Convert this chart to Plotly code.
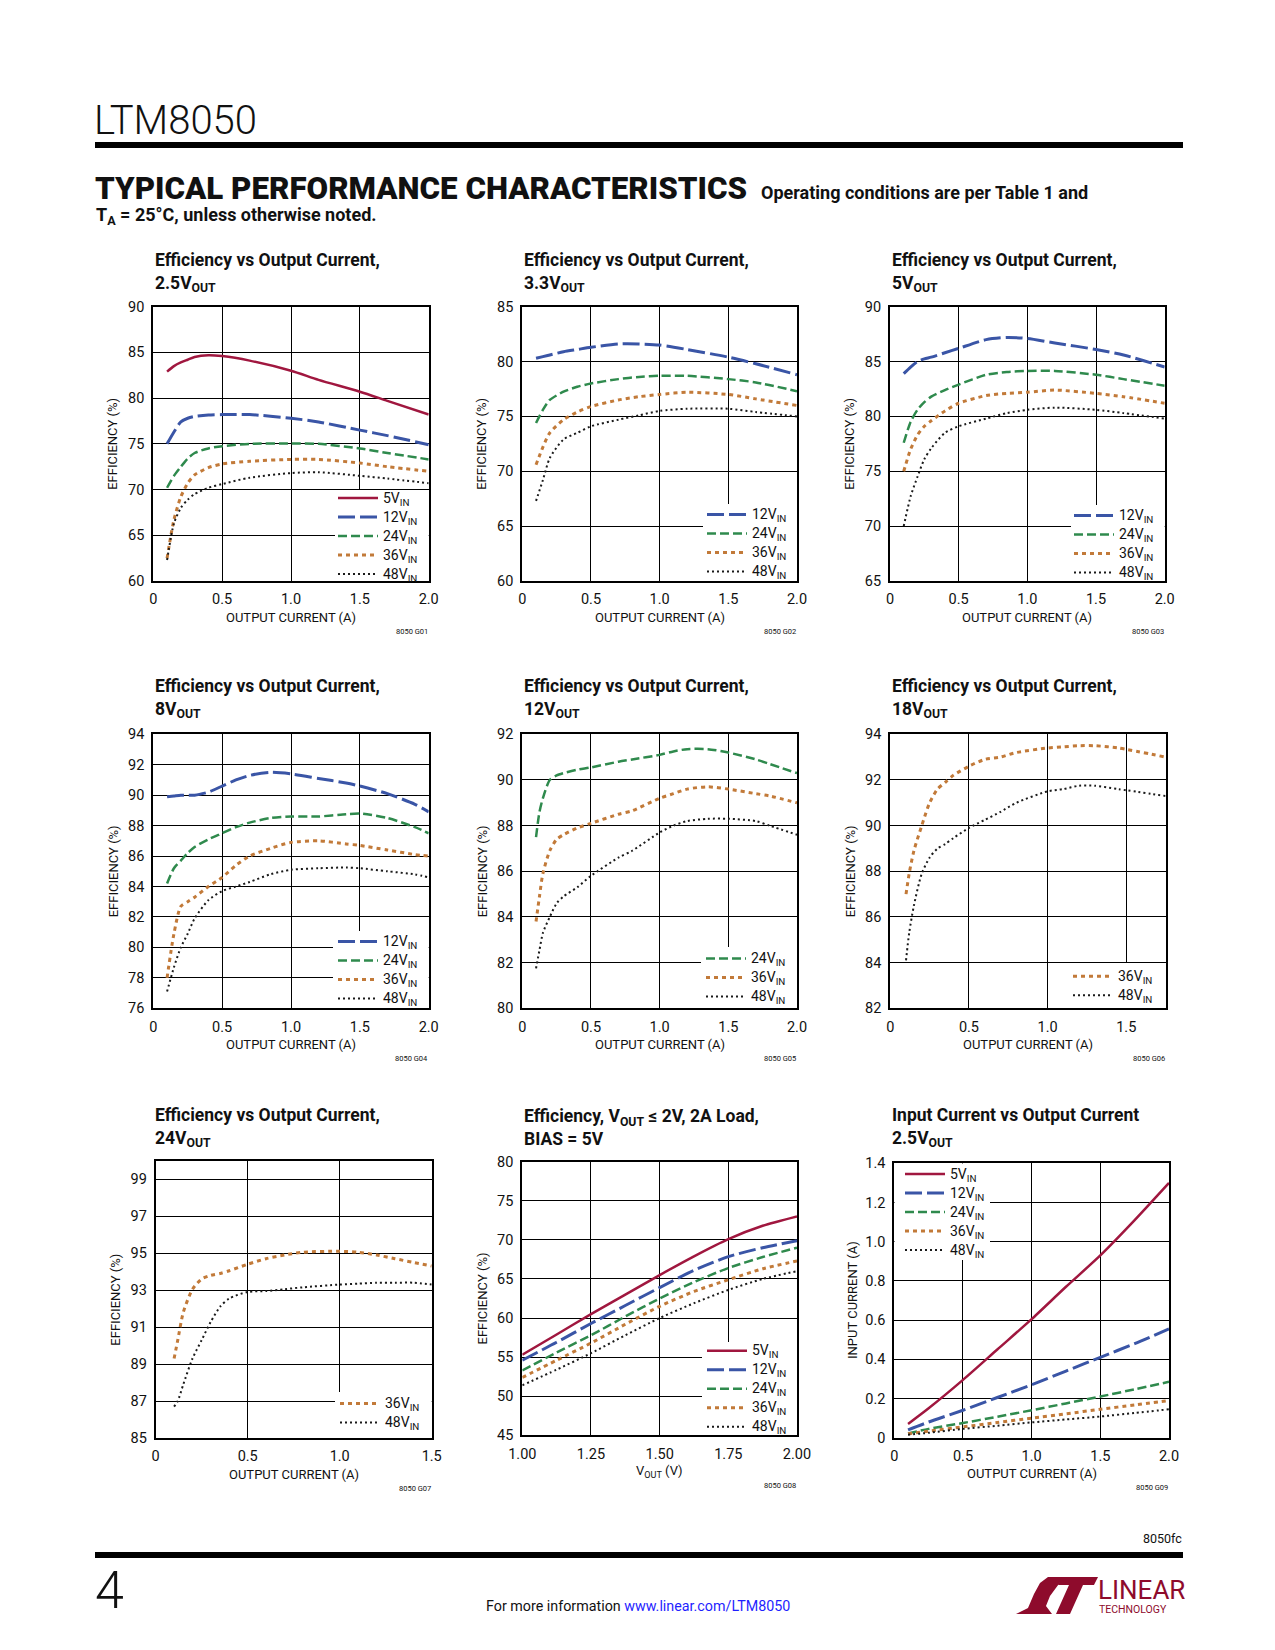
import plotly.graph_objects as go

# Page is 1275x1650; the browser body has an 8px margin, so the figure is sized to fit
# inside it exactly and all positions below are page pixels.
PAGE_W, PAGE_H = 1275, 1650
OX, OY = 8, 8
W, H = PAGE_W - 2 * OX, PAGE_H - 2 * OY
FONT = "Roboto, Liberation Sans, DejaVu Sans Condensed, sans-serif"

# ---------------- data ----------------
# Panel 1: Efficiency vs Output Current, 2.5VOUT
p1_x = [0.1, 0.15, 0.2, 0.25, 0.3, 0.4, 0.5, 0.7, 1.0, 1.2, 1.5, 1.7, 2.0]
p1_5v = [82.9, 83.5, 83.9, 84.2, 84.5, 84.7, 84.6, 84.1, 83.0, 82.0, 80.7, 79.7, 78.2]
p1_12v = [75.0, 76.3, 77.4, 77.8, 78.0, 78.15, 78.2, 78.2, 77.8, 77.4, 76.5, 75.9, 74.9]
p1_24v = [70.2, 71.5, 72.5, 73.4, 74.0, 74.5, 74.75, 75.0, 75.05, 75.0, 74.5, 74.0, 73.3]
p1_36v = [62.5, 66.7, 69.2, 70.7, 71.6, 72.4, 72.8, 73.1, 73.3, 73.3, 72.9, 72.5, 72.0]
p1_48v = [62.3, 66.3, 68.0, 68.9, 69.5, 70.2, 70.6, 71.3, 71.8, 71.9, 71.5, 71.2, 70.7]

# Panel 2: 3.3VOUT
p2_x = [0.1, 0.15, 0.2, 0.3, 0.4, 0.5, 0.7, 0.85, 1.0, 1.2, 1.5, 1.7, 2.0]
p2_12v = [80.3, 80.45, 80.6, 80.9, 81.1, 81.3, 81.6, 81.6, 81.5, 81.1, 80.4, 79.8, 78.8]
p2_24v = [74.4, 75.6, 76.5, 77.25, 77.7, 78.0, 78.4, 78.6, 78.7, 78.7, 78.4, 78.1, 77.3]
p2_36v = [70.6, 72.2, 73.5, 74.7, 75.4, 75.9, 76.5, 76.8, 77.0, 77.2, 77.0, 76.6, 76.0]
p2_48v = [67.3, 69.2, 71.2, 72.9, 73.5, 74.1, 74.7, 75.1, 75.5, 75.7, 75.7, 75.4, 75.0]

# Panel 3: 5VOUT
p3_x = [0.1, 0.15, 0.2, 0.25, 0.3, 0.4, 0.5, 0.7, 0.85, 1.0, 1.2, 1.5, 1.7, 2.0]
p3_12v = [83.9, 84.5, 85.0, 85.25, 85.4, 85.8, 86.2, 87.0, 87.2, 87.1, 86.7, 86.1, 85.6, 84.5]
p3_24v = [77.6, 79.5, 80.6, 81.3, 81.8, 82.4, 82.9, 83.8, 84.05, 84.15, 84.15, 83.8, 83.4, 82.8]
p3_36v = [75.0, 77.0, 78.3, 79.1, 79.6, 80.5, 81.2, 81.9, 82.1, 82.2, 82.4, 82.1, 81.8, 81.2]
p3_48v = [70.0, 72.7, 74.5, 76.1, 77.1, 78.5, 79.1, 79.8, 80.3, 80.6, 80.8, 80.6, 80.3, 79.8]

# Panel 4: 8VOUT
p4_x = [0.1, 0.15, 0.2, 0.25, 0.3, 0.4, 0.5, 0.6, 0.7, 0.85, 1.0, 1.2, 1.4, 1.5, 1.7, 1.9, 2.0]
p4_12v = [89.9, 89.95, 90.0, 90.0, 90.0, 90.2, 90.6, 91.0, 91.3, 91.5, 91.4, 91.1, 90.8, 90.6, 90.1, 89.4, 88.9]
p4_24v = [84.2, 85.2, 85.7, 86.2, 86.6, 87.1, 87.5, 87.9, 88.2, 88.5, 88.6, 88.6, 88.75, 88.8, 88.5, 87.9, 87.5]
p4_36v = [78.0, 80.9, 82.7, 83.0, 83.3, 84.0, 84.6, 85.4, 86.0, 86.5, 86.9, 87.0, 86.8, 86.7, 86.4, 86.1, 86.0]
p4_48v = [77.1, 78.7, 80.0, 80.9, 81.9, 83.1, 83.7, 84.0, 84.3, 84.8, 85.1, 85.2, 85.25, 85.2, 85.0, 84.8, 84.6]

# Panel 5: 12VOUT
p5_x = [0.1, 0.125, 0.15, 0.2, 0.25, 0.3, 0.4, 0.5, 0.7, 0.8, 1.0, 1.1, 1.2, 1.35, 1.5, 1.7, 1.8, 2.0]
p5_24v = [87.5, 88.6, 89.2, 90.0, 90.2, 90.3, 90.45, 90.55, 90.8, 90.9, 91.1, 91.25, 91.35, 91.35, 91.2, 90.9, 90.7, 90.3]
p5_36v = [83.8, 84.9, 85.9, 86.9, 87.4, 87.6, 87.9, 88.1, 88.5, 88.65, 89.2, 89.4, 89.6, 89.7, 89.6, 89.4, 89.3, 89.0]
p5_48v = [81.75, 82.55, 83.3, 84.0, 84.6, 84.9, 85.3, 85.8, 86.6, 86.9, 87.7, 88.0, 88.2, 88.3, 88.3, 88.2, 88.0, 87.6]

# Panel 6: 18VOUT
p6_x = [0.1, 0.12, 0.15, 0.2, 0.25, 0.3, 0.35, 0.4, 0.5, 0.6, 0.7, 0.8, 1.0, 1.1, 1.2, 1.3, 1.45, 1.75]
p6_36v = [87.0, 87.9, 88.9, 90.0, 91.0, 91.6, 91.9, 92.2, 92.6, 92.9, 93.0, 93.2, 93.4, 93.45, 93.5, 93.5, 93.4, 93.0]
p6_48v = [84.1, 85.3, 86.5, 87.9, 88.6, 89.0, 89.2, 89.45, 89.9, 90.25, 90.6, 91.0, 91.5, 91.6, 91.75, 91.75, 91.6, 91.3]

# Panel 7: 24VOUT
p7_x = [0.1, 0.12, 0.15, 0.2, 0.25, 0.3, 0.35, 0.4, 0.5, 0.6, 0.7, 0.8, 1.0, 1.1, 1.2, 1.3, 1.4, 1.5]
p7_36v = [89.3, 90.3, 91.8, 93.05, 93.6, 93.8, 93.9, 94.05, 94.4, 94.7, 94.9, 95.05, 95.1, 95.05, 94.9, 94.7, 94.5, 94.3]
p7_48v = [86.7, 87.0, 87.9, 89.3, 90.3, 91.3, 92.1, 92.55, 92.9, 92.95, 93.05, 93.15, 93.3, 93.35, 93.4, 93.4, 93.4, 93.3]

# Panel 8: Efficiency vs VOUT, 2A load, BIAS = 5V
p8_x = [1.0, 1.125, 1.25, 1.375, 1.5, 1.625, 1.75, 1.875, 2.0]
p8_5v = [55.3, 57.9, 60.5, 63.0, 65.5, 67.9, 70.1, 71.8, 73.0]
p8_12v = [54.6, 56.9, 59.3, 61.6, 63.9, 66.1, 67.85, 69.0, 69.9]
p8_24v = [53.3, 55.6, 57.8, 60.2, 62.5, 64.6, 66.4, 67.8, 69.0]
p8_36v = [52.4, 54.6, 56.8, 59.2, 61.5, 63.4, 64.9, 66.3, 67.3]
p8_48v = [51.4, 53.4, 55.5, 57.8, 60.0, 61.9, 63.6, 65.0, 66.0]

# Panel 9: Input current vs output current, 2.5VOUT
p9_x = [0.1, 0.25, 0.5, 0.75, 1.0, 1.25, 1.5, 1.75, 2.0]
p9_5v = [0.07, 0.15, 0.295, 0.45, 0.605, 0.77, 0.93, 1.11, 1.30]
p9_12v = [0.04, 0.08, 0.14, 0.205, 0.27, 0.34, 0.41, 0.48, 0.555]
p9_24v = [0.022, 0.045, 0.075, 0.107, 0.14, 0.175, 0.21, 0.247, 0.285]
p9_36v = [0.02, 0.033, 0.055, 0.077, 0.10, 0.122, 0.145, 0.167, 0.19]
p9_48v = [0.015, 0.025, 0.045, 0.061, 0.078, 0.093, 0.108, 0.126, 0.145]

# tick labels
x_cur2 = ([0, 0.5, 1.0, 1.5, 2.0], ["0", "0.5", "1.0", "1.5", "2.0"])
x_cur175 = ([0, 0.5, 1.0, 1.5], ["0", "0.5", "1.0", "1.5"])
x_vout = ([1.0, 1.25, 1.5, 1.75, 2.0], ["1.00", "1.25", "1.50", "1.75", "2.00"])
y_in = ([0, 0.2, 0.4, 0.6, 0.8, 1.0, 1.2, 1.4], ["0", "0.2", "0.4", "0.6", "0.8", "1.0", "1.2", "1.4"])

# ---------------- styles ----------------
COL = {"5": "#a0173f", "12": "#3a55a6", "24": "#2f8a4d", "36": "#c27a39", "48": "#1a1a1a"}
DASH = {"5": "solid", "12": "17px,5px", "24": "9px,4px", "36": "4px,4px", "48": "2px,3px"}
WID = {"5": 2.5, "12": 3, "24": 2.5, "36": 3, "48": 2}


def yt(a, b, s):
    v = list(range(a, b + 1, s))
    return (v, [str(t) for t in v])


panels = [
    dict(box=(153.3, 428.7, 306.7, 581), xr=[0, 2], xt=x_cur2, yr=[60, 90], ytk=yt(60, 90, 5),
         series=[("5", p1_x, p1_5v), ("12", p1_x, p1_12v), ("24", p1_x, p1_24v), ("36", p1_x, p1_36v), ("48", p1_x, p1_48v)],
         title="Efficiency vs Output Current,<br>2.5V<sub>OUT</sub>", tx=152.7, ty=272.5,
         ytitle="EFFICIENCY (%)", ytx=113, xtitle="OUTPUT CURRENT (A)", code="8050 G01",
         leg=(333, 536), wbox=(335, 429, 490, 581)),
    dict(box=(522.3, 797, 306.7, 581), xr=[0, 2], xt=x_cur2, yr=[60, 85], ytk=yt(60, 85, 5),
         series=[("12", p2_x, p2_12v), ("24", p2_x, p2_24v), ("36", p2_x, p2_36v), ("48", p2_x, p2_48v)],
         title="Efficiency vs Output Current,<br>3.3V<sub>OUT</sub>", tx=521.7, ty=272.5,
         ytitle="EFFICIENCY (%)", ytx=482, xtitle="OUTPUT CURRENT (A)", code="8050 G02",
         leg=(702, 543), wbox=(703, 797, 504, 581)),
    dict(box=(890, 1164.7, 306.7, 581), xr=[0, 2], xt=x_cur2, yr=[65, 90], ytk=yt(65, 90, 5),
         series=[("12", p3_x, p3_12v), ("24", p3_x, p3_24v), ("36", p3_x, p3_36v), ("48", p3_x, p3_48v)],
         title="Efficiency vs Output Current,<br>5V<sub>OUT</sub>", tx=890, ty=272.5,
         ytitle="EFFICIENCY (%)", ytx=850, xtitle="OUTPUT CURRENT (A)", code="8050 G03",
         leg=(1069, 544), wbox=(1071, 1165, 505, 581)),
    dict(box=(153.3, 428.7, 734.3, 1008.3), xr=[0, 2], xt=x_cur2, yr=[76, 94], ytk=yt(76, 94, 2),
         series=[("12", p4_x, p4_12v), ("24", p4_x, p4_24v), ("36", p4_x, p4_36v), ("48", p4_x, p4_48v)],
         title="Efficiency vs Output Current,<br>8V<sub>OUT</sub>", tx=152.7, ty=699,
         ytitle="EFFICIENCY (%)", ytx=113, xtitle="OUTPUT CURRENT (A)", code="8050 G04",
         leg=(333, 970), wbox=(333, 429, 931, 1008.3)),
    dict(box=(522.3, 797, 734.3, 1008.3), xr=[0, 2], xt=x_cur2, yr=[80, 92], ytk=yt(80, 92, 2),
         series=[("24", p5_x, p5_24v), ("36", p5_x, p5_36v), ("48", p5_x, p5_48v)],
         title="Efficiency vs Output Current,<br>12V<sub>OUT</sub>", tx=521.7, ty=699,
         ytitle="EFFICIENCY (%)", ytx=482, xtitle="OUTPUT CURRENT (A)", code="8050 G05",
         leg=(701, 977.5), wbox=(701, 797, 947, 1008.3)),
    dict(box=(890.3, 1165.6, 734.3, 1008.3), xr=[0, 1.75], xt=x_cur175, yr=[82, 94], ytk=yt(82, 94, 2),
         series=[("36", p6_x, p6_36v), ("48", p6_x, p6_48v)],
         title="Efficiency vs Output Current,<br>18V<sub>OUT</sub>", tx=890, ty=699,
         ytitle="EFFICIENCY (%)", ytx=850, xtitle="OUTPUT CURRENT (A)", code="8050 G06",
         leg=(1068, 985.7), wbox=(1068, 1166, 963, 1008.3)),
    dict(box=(155.7, 431.7, 1160.7, 1438), xr=[0, 1.5], xt=x_cur175, yr=[85, 100], ytk=yt(85, 99, 2),
         series=[("36", p7_x, p7_36v), ("48", p7_x, p7_48v)],
         title="Efficiency vs Output Current,<br>24V<sub>OUT</sub>", tx=152.7, ty=1127.5,
         ytitle="EFFICIENCY (%)", ytx=115.3, xtitle="OUTPUT CURRENT (A)", code="8050 G07",
         leg=(335, 1413), wbox=(335, 432, 1392, 1438)),
    dict(box=(522.3, 797, 1161.7, 1435.3), xr=[1, 2], xt=x_vout, yr=[45, 80], ytk=yt(45, 80, 5),
         series=[("5", p8_x, p8_5v), ("12", p8_x, p8_12v), ("24", p8_x, p8_24v), ("36", p8_x, p8_36v), ("48", p8_x, p8_48v)],
         title="Efficiency, V<sub>OUT</sub> ≤ 2V, 2A Load,<br>BIAS = 5V", tx=521.7, ty=1127.5,
         ytitle="EFFICIENCY (%)", ytx=482, xtitle="V<sub>OUT</sub> (V)", code="8050 G08",
         leg=(702, 1388.7), wbox=(702, 797, 1342, 1435.3)),
    dict(box=(894.3, 1169, 1163.3, 1437.7), xr=[0, 2], xt=x_cur2, yr=[0, 1.4], ytk=y_in,
         series=[("5", p9_x, p9_5v), ("12", p9_x, p9_12v), ("24", p9_x, p9_24v), ("36", p9_x, p9_36v), ("48", p9_x, p9_48v)],
         title="Input Current vs Output Current<br>2.5V<sub>OUT</sub>", tx=890, ty=1127.5,
         ytitle="INPUT CURRENT (A)", ytx=852.5, xtitle="OUTPUT CURRENT (A)", code="8050 G09",
         leg=(900, 1212), wbox=(894.3, 990, 1163.3, 1260)),
]


def px(x):
    return (x - OX) / W


def py(y):
    return 1 - (y - OY) / H


fig = go.Figure()
layout = dict(width=W, height=H, margin=dict(l=0, r=0, t=0, b=0, pad=0, autoexpand=False),
              paper_bgcolor="white", plot_bgcolor="white", showlegend=True)
annotations = []
shapes = []

for i, p in enumerate(panels, start=1):
    sfx = "" if i == 1 else str(i)
    x0, x1, yt0, yb = p["box"]
    axcommon = dict(showgrid=True, gridcolor="#000", gridwidth=1, showline=True, linecolor="#000",
                    linewidth=2, mirror=True, zeroline=False, ticks="", ticklabelstandoff=4,
                    automargin=False,
                    tickfont=dict(family=FONT, size=14.5, color="#111"), fixedrange=True)
    layout["xaxis" + sfx] = dict(domain=[px(x0), px(x1)], range=p["xr"], tickvals=p["xt"][0],
                                 ticktext=p["xt"][1], anchor="y" + sfx, **axcommon)
    layout["yaxis" + sfx] = dict(domain=[py(yb), py(yt0)], range=p["yr"], tickvals=p["ytk"][0],
                                 ticktext=p["ytk"][1], anchor="x" + sfx, **axcommon)
    legname = "legend" + sfx
    lx, lyc = p["leg"]
    layout[legname] = dict(x=px(lx), y=py(lyc), xanchor="left", yanchor="middle",
                           bgcolor="rgba(0,0,0,0)", borderwidth=0, itemwidth=40,
                           font=dict(family=FONT, size=12, color="#111"))
    for key, xs, ys in p["series"]:
        fig.add_trace(go.Scatter(x=xs, y=ys, mode="lines",
                                 name=f"<span style='font-size:14px'>{key}V<sub>IN</sub></span>",
                                 line=dict(color=COL[key], width=WID[key], dash=DASH[key],
                                           shape="spline", smoothing=0.7),
                                 xaxis="x" + sfx, yaxis="y" + sfx, legend=legname, hoverinfo="skip"))
    # white box behind legend (in data coordinates) hides the gridlines there
    bx0, bx1, by0, by1 = p["wbox"]
    xr0, xr1 = p["xr"]
    yr0, yr1 = p["yr"]
    shapes.append(dict(type="rect", xref="x" + sfx, yref="y" + sfx,
                       x0=xr0 + (bx0 - x0) / (x1 - x0) * (xr1 - xr0),
                       x1=xr0 + (bx1 - x0) / (x1 - x0) * (xr1 - xr0),
                       y0=yr0 + (yb - by1) / (yb - yt0) * (yr1 - yr0),
                       y1=yr0 + (yb - by0) / (yb - yt0) * (yr1 - yr0),
                       fillcolor="white", line=dict(width=0), layer="between"))
    # titles
    annotations.append(dict(text=p["title"], x=px(p["tx"]), y=py(p["ty"]),
                            xanchor="left", yanchor="middle", align="left",
                            font=dict(family=FONT, size=17.5, color="#111", weight="bold")))
    annotations.append(dict(text=p["ytitle"], x=px(p["ytx"]), y=py((yt0 + yb) / 2),
                            xanchor="center", yanchor="middle", textangle=-90,
                            font=dict(family=FONT, size=13, color="#111")))
    annotations.append(dict(text=p["xtitle"], x=px((x0 + x1) / 2), y=py(yb + 36),
                            xanchor="center", yanchor="middle",
                            font=dict(family=FONT, size=13, color="#111")))
    annotations.append(dict(text=p["code"], x=px(x1 + 1), y=py(yb + 50),
                            xanchor="right", yanchor="middle",
                            font=dict(family=FONT, size=7.5, color="#111")))

# ---------------- page decorations ----------------
annotations += [
    dict(text="LTM8050", x=px(92), y=py(121), xanchor="left", yanchor="middle",
         font=dict(family=FONT, size=40, color="#111", weight=300)),
    dict(text="TYPICAL PERFORMANCE CHARACTERISTICS", x=px(93), y=py(188), xanchor="left", yanchor="middle",
         font=dict(family=FONT, size=31.3, color="#111", weight=900)),
    dict(text="Operating conditions are per Table 1 and", x=px(759), y=py(193), xanchor="left", yanchor="middle",
         font=dict(family=FONT, size=18, color="#111", weight="bold")),
    dict(text="T<sub>A</sub> = 25°C, unless otherwise noted.", x=px(94), y=py(216), xanchor="left", yanchor="middle",
         font=dict(family=FONT, size=18, color="#111", weight="bold")),
    dict(text="8050fc", x=px(1184), y=py(1538), xanchor="right", yanchor="middle",
         font=dict(family=FONT, size=12.5, color="#111")),
    dict(text="4", x=px(93), y=py(1590), xanchor="left", yanchor="middle",
         font=dict(family=FONT, size=52, color="#111", weight=300)),
    dict(text="For more information <span style='color:#1f1fff'>www.linear.com/LTM8050</span>",
         x=px(484), y=py(1606), xanchor="left", yanchor="middle",
         font=dict(family=FONT, size=14.3, color="#111")),
    dict(text="LINEAR", x=px(1096), y=py(1590), xanchor="left", yanchor="middle",
         font=dict(family=FONT, size=26, color="#8e0b2c")),
    dict(text="TECHNOLOGY", x=px(1097), y=py(1609), xanchor="left", yanchor="middle",
         font=dict(family=FONT, size=10.5, color="#8e0b2c")),
]
for a in annotations:
    a.update(xref="paper", yref="paper", showarrow=False)

shapes += [
    dict(type="rect", xref="paper", yref="paper", x0=px(95), x1=px(1183), y0=py(148), y1=py(142),
         fillcolor="#000", line=dict(width=0)),
    dict(type="rect", xref="paper", yref="paper", x0=px(95), x1=px(1183), y0=py(1558), y1=py(1552),
         fillcolor="#000", line=dict(width=0)),
]


def path_px(pts):
    return "M " + " L ".join(f"{px(a):.5f},{py(b):.5f}" for a, b in pts) + " Z"


logo_l = [(1048, 1577), (1064, 1577), (1050, 1596), (1046, 1606), (1052, 1614), (1016, 1614),
          (1028, 1608), (1034, 1594), (1040, 1583)]
logo_t = [(1062, 1577), (1098, 1577), (1094, 1585), (1083, 1585), (1070, 1614), (1056, 1614),
          (1069, 1585), (1058, 1585)]
for pts in (logo_l, logo_t):
    shapes.append(dict(type="path", xref="paper", yref="paper", path=path_px(pts),
                       fillcolor="#8e0b2c", line=dict(width=0)))

layout["annotations"] = annotations
layout["shapes"] = shapes
fig.update_layout(**layout)
fig.write_html("out.html")
